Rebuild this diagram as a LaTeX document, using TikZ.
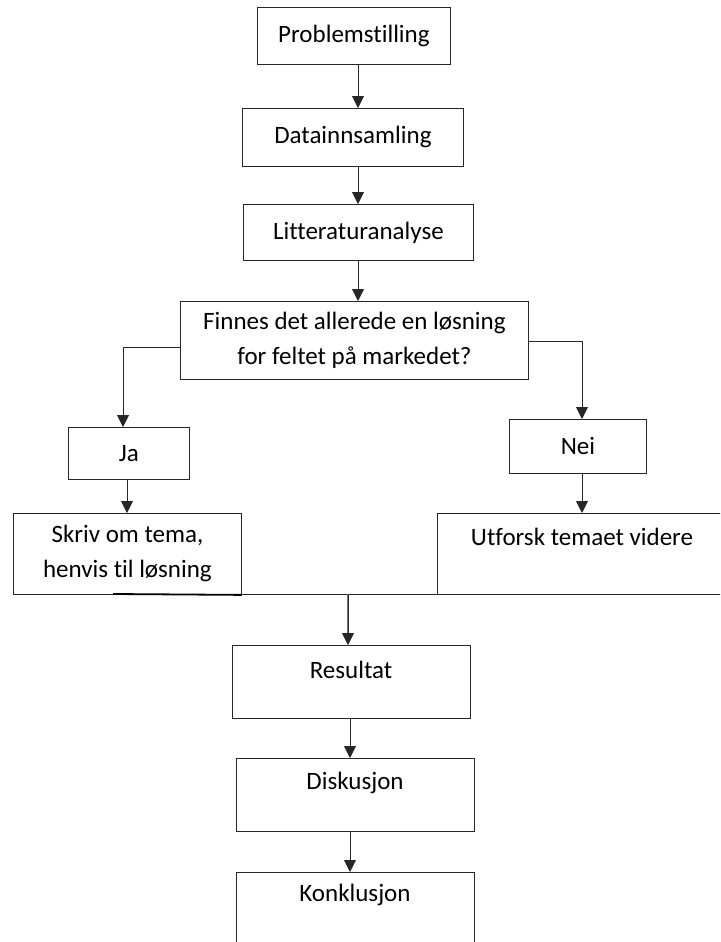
\documentclass[tikz,border=0pt]{standalone}
\usepackage{fontspec}
\setmainfont[Ligatures=NoCommon]{Carlito}
\usetikzlibrary{arrows.meta}
\begin{document}
\begin{tikzpicture}[x=1pt,y=-1pt,
  box/.style={draw=black!85, line width=0.9pt, anchor=north west, inner sep=0pt, align=center,
    font=\fontsize{25}{35}\selectfont},
  lbl/.style={inner sep=0pt, font=\fontsize{25}{35}\selectfont, align=center},
  conn/.style={draw=black!85, line width=0.9pt},
  arr/.style={conn, -{Triangle[length=12pt,width=12pt]}}
]
\useasboundingbox (0,0) rectangle (720,942);
\begin{scope}
\clip (0,0) rectangle (720,942);
% boxes
\node[box, minimum width=193pt, minimum height=57pt] (p) at (257,7) {Problemstilling};
\node[box, minimum width=221pt, minimum height=58pt] (d) at (242,108) {Datainnsamling};
\node[box, minimum width=230pt, minimum height=56pt] (l) at (243,204) {Litteraturanalyse};
\node[box, minimum width=348pt, minimum height=78pt] (f) at (180,301) {Finnes det allerede en løsning\\for feltet på markedet?};
\node[box, minimum width=121pt, minimum height=52pt] (ja) at (68,427) {Ja};
\node[box, minimum width=137pt, minimum height=54pt] (nei) at (509,419) {Nei};
\node[box, minimum width=228pt, minimum height=81pt] (s) at (13,513) {Skriv om tema,\\henvis til løsning};
\node[box, minimum width=300pt, minimum height=81pt] (u) at (437,513) {};
\node[box, minimum width=238pt, minimum height=73pt] (r) at (232,645) {};
\node[box, minimum width=238pt, minimum height=73pt] (dk) at (236,758) {};
% Konklusjon box: open at the bottom
\coordinate (kbl) at (236,950);
\coordinate (kbr) at (474,950);
\coordinate (ktop) at (350,872);
\draw[conn] (kbl) -- (236,872) -- (474,872) -- (kbr);
% texts in top-aligned boxes
\node[lbl] (ut) at (582,537) {Utforsk temaet videre};
\node[lbl] (rt) at (351,670) {Resultat};
\node[lbl] (dt) at (355,783) {Diskusjon};
\node[lbl] (kt) at (355,895) {Konklusjon};
% connectors
\draw[arr] (p.south -| 358,0) -- (d.north -| 358,0);
\draw[arr] (d.south -| 358,0) -- (l.north -| 358,0);
\draw[arr] (l.south -| 358,0) -- (f.north -| 358,0);
\draw[arr] (f.west |- 0,347) -- (123,347) -- (ja.north -| 123,0);
\draw[arr] (f.east |- 0,341) -- (582,341) -- (nei.north -| 582,0);
\draw[arr] (ja.south -| 127,0) -- (s.north -| 127,0);
\draw[arr] (nei.south -| 582,0) -- (u.north -| 582,0);
\coordinate (jn) at (348,594);
\draw[conn] (s.south east) -- (u.south west);
\draw[draw=black, line width=1.8pt] (113,594) -- (s.south east);
\draw[draw=black!55, line width=2.6pt] (jn) -- (348,634);
\draw[arr] (jn) -- (r.north -| 348,0);
\draw[arr] (r.south -| 350,0) -- (dk.north -| 350,0);
\draw[arr] (dk.south -| 350,0) -- (ktop);
\end{scope}
\end{tikzpicture}
\end{document}
